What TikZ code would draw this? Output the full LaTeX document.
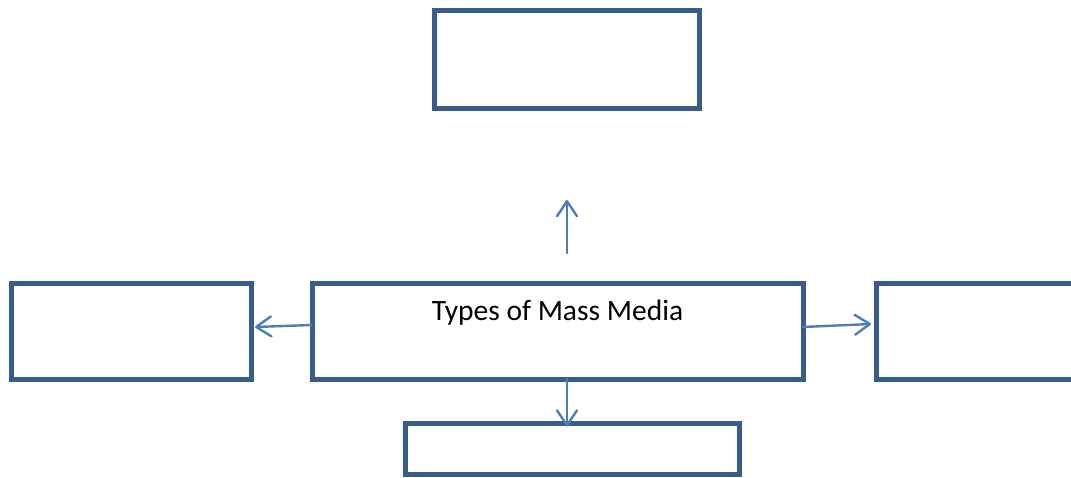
\documentclass[tikz,border=0pt]{standalone}
\usepackage{fontspec}
\setmainfont{Carlito}
\usetikzlibrary{arrows.meta}
\definecolor{boxblue}{RGB}{56,93,138}
\definecolor{linkblue}{RGB}{74,126,187}
\begin{document}
\begin{tikzpicture}[x=1pt,y=-1pt,
  mediabox/.style={draw=boxblue,line width=5pt,rectangle,inner sep=0pt,outer sep=0pt,fill=white},
  link/.style={draw=linkblue,line width=2.4pt,line cap=round,-{Straight Barb[length=15pt,width=20pt,line width=2.4pt,round]}}]
\useasboundingbox (0,0) rectangle (1071,477);
% boxes
\node[mediabox,minimum width=265pt,minimum height=98pt] (top) at (566.5,59) {};
\node[mediabox,minimum width=491pt,minimum height=96pt] (centre) at (557.5,331) {};
\node[mediabox,minimum width=240pt,minimum height=96pt] (left) at (131,331) {};
\node[mediabox,minimum width=244pt,minimum height=96pt] (right) at (998,331) {};
\node[mediabox,minimum width=334pt,minimum height=50.5pt] (bottom) at (572,448.75) {};
% title
\node[anchor=base,font=\fontsize{29.5}{35}\selectfont,inner sep=0pt] (title) at (557.5,320) {Types of Mass Media};
% arrow end points
\coordinate (upfoot) at (567,253);
\coordinate (uptip) at (567,200);
\coordinate (lfoot) at (centre.west |- 0,325);
\coordinate (ltip) at (255,327);
\coordinate (rfoot) at (centre.east |- 0,327);
\coordinate (rtip) at (871,324);
\coordinate (dfoot) at (centre.south -| 567,0);
\coordinate (dtip) at (bottom.north -| 567,0);
% arrows
\draw[link] (upfoot) -- (uptip);
\draw[link] (lfoot) -- (ltip);
\draw[link] (rfoot) -- (rtip);
\draw[link] (dfoot) -- ([yshift=-3pt]dtip);
\end{tikzpicture}
\end{document}
